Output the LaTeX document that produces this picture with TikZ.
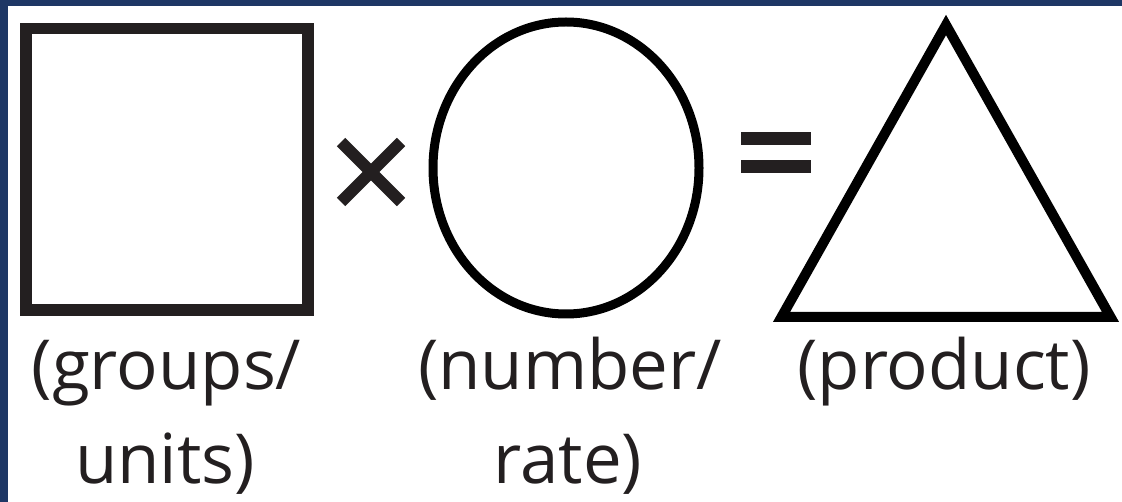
\documentclass[tikz,border=0pt]{standalone}
\usepackage{fontspec}
\setmainfont{Open Sans}
\definecolor{framecol}{HTML}{1E3765}
\definecolor{ink}{HTML}{231F20}
\begin{document}
\begin{tikzpicture}[x=1pt,y=-1pt,
  lbl/.style={anchor=base, inner sep=0pt, font=\fontsize{69}{93}\selectfont, text=ink},
  shapeline/.style={draw=black, line join=miter}]
\useasboundingbox (0,0) rectangle (1122,502);
\fill[white] (0,0) rectangle (1122,502);
\fill[framecol] (0,0) rectangle (1122,6);
\fill[framecol] (0,0) rectangle (8,502);
% square
\draw[shapeline, draw=ink, line width=11.5pt] (26,28.5) rectangle (308,310);
% times sign
\draw[ink, line width=12pt] (341,142) -- (401,202);
\draw[ink, line width=12pt] (401,142) -- (341,202);
% circle
\draw[shapeline, line width=9pt] (566,168) ellipse [x radius=133pt, y radius=146pt];
% equals sign
\fill[ink] (741,132) rectangle (811,145);
\fill[ink] (741,160) rectangle (811,173);
% triangle
\draw[shapeline, line width=10pt] (781.5,317) -- (946,25) -- (1110.5,317) -- cycle;
% labels
\node[lbl] (g1) at (166.5,390) {(groups/};
\node[lbl] (g2) at (165,483) {units)};
\node[lbl] (n1) at (570,390) {(number/};
\node[lbl] (n2) at (568,483) {rate)};
\node[lbl] (p1) at (944,390) {(product)};
\end{tikzpicture}
\end{document}
